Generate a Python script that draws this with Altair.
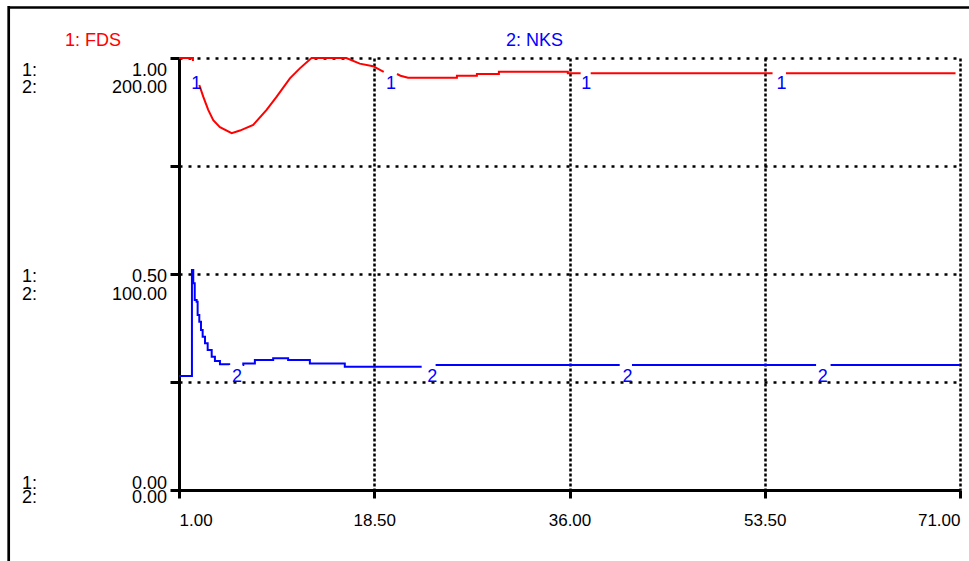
import altair as alt
import pandas as pd

# ---------------- data ----------------
x_ticks = [1.0, 18.5, 36.0, 53.5, 71.0]
fds_ticks = [0.0, 0.25, 0.5, 0.75, 1.0]
scale_fds = [1.00, 0.50, 0.00]
scale_nks = [200.00, 100.00, 0.00]
series_names = ["1: FDS", "2: NKS"]

fds_time = [1.0, 2.25, 2.25,
            2.82, 3.18, 3.62, 4.07, 4.67, 5.72, 6.46, 7.65, 8.85, 9.74, 10.94, 11.83, 12.88, 16.0, 17.2, 18.39, 19.35,
            20.54, 20.85, 21.53, 25.91, 25.91, 27.70, 27.70, 29.67, 29.67, 35.85, 35.85, 37.0,
            37.9, 54.2,
            55.4, 70.6]
fds_value = [1.0, 1.0, 0.993,
             0.9375, 0.910, 0.880, 0.856, 0.840, 0.826, 0.832, 0.845, 0.880, 0.910, 0.953, 0.976, 1.0, 1.0, 0.987, 0.981, 0.968,
             0.963, 0.959, 0.9544, 0.9544, 0.959, 0.959, 0.963, 0.963, 0.9683, 0.9683, 0.9645, 0.9645,
             0.9645, 0.9645,
             0.9645, 0.9645]
fds_part = [1] * 3 + [2] * 17 + [3] * 12 + [4] * 2 + [5] * 2

nks_time = [1.0, 2.16, 2.28, 2.41, 2.58, 2.67, 2.82, 2.97, 3.12, 3.33, 3.57, 3.93, 4.22, 4.67, 5.5,
            6.7, 6.76, 7.8, 9.44, 10.78, 12.73, 15.86, 22.75,
            24.0, 40.5,
            41.6, 58.1,
            59.4, 71.0]
nks_value = [52.8, 101.9, 95.7, 88.0, 87.2, 81.0, 77.9, 74.1, 71.0, 67.9, 64.8, 61.7, 59.7, 58.2, 57.9,
             57.9, 58.6, 60.2, 61.0, 60.2, 58.6, 57.1, 57.1,
             57.9, 57.9,
             57.9, 57.9,
             57.9, 57.9]
nks_part = [1] * 15 + [2] * 8 + [3] * 2 + [4] * 2 + [5] * 2

marker1_time = [2.55, 20.0, 37.5, 55.0]
marker1_value = [0.94, 0.94, 0.94, 0.94]
marker2_time = [6.2, 23.7, 41.2, 58.7]
marker2_value = [52.5, 52.5, 52.5, 52.5]

# ---------------- layout / style ----------------
W, H = 781, 432
LEFT, TOP = 179, 58
FONT = "Liberation Sans"
FS = 18
RED = "#ff0000"
BLUE = "#0000ff"
row_dy1 = [13, 2.5, -6.5]
row_dy2 = [29.5, 20.5, 8]

fds_df = pd.DataFrame({"t": fds_time, "v": fds_value, "part": fds_part})
nks_df = pd.DataFrame({"t": nks_time, "v": nks_value, "part": nks_part})
m1_df = pd.DataFrame({"t": marker1_time, "v": marker1_value})
m2_df = pd.DataFrame({"t": marker2_time, "v": marker2_value})

xs = alt.Scale(domain=[1, 71], nice=False, zero=False)
ys_fds = alt.Scale(domain=[0, 1], nice=False, zero=False)
ys_nks = alt.Scale(domain=[0, 200], nice=False, zero=False)


def x_axis():
    return alt.Axis(values=x_ticks, format=".2f", title=None, grid=True,
                    gridDash=[3, 2], gridWidth=2.5, gridColor="black", gridOpacity=1,
                    domainColor="black", domainWidth=3, tickColor="black", tickWidth=3,
                    tickSize=8, labelFont=FONT, labelFontSize=17, labelColor="black",
                    labelFlush=True, labelPadding=14)


def x_enc():
    return alt.X("t:Q", scale=xs, axis=x_axis())


y_axis = alt.Axis(values=fds_ticks, labels=False, title=None, grid=True,
                  gridDash=[3, 6], gridWidth=2.5, gridColor="black", gridOpacity=1,
                  domainColor="black", domainWidth=3, tickColor="black", tickWidth=3,
                  tickSize=9)

fds_line = alt.Chart(fds_df).mark_line(color=RED, strokeWidth=2, clip=False).encode(
    x=x_enc(),
    y=alt.Y("v:Q", scale=ys_fds, axis=y_axis),
    detail="part:N",
)

nks_line = alt.Chart(nks_df).mark_line(color=BLUE, strokeWidth=2, interpolate="step-after").encode(
    x=x_enc(),
    y=alt.Y("v:Q", scale=ys_nks, axis=None),
    detail="part:N",
)

m1 = alt.Chart(m1_df).mark_text(text="1", color=BLUE, font=FONT, fontSize=FS,
                                align="center", baseline="middle").encode(
    x=x_enc(),
    y=alt.Y("v:Q", scale=ys_fds, axis=None),
)
m2 = alt.Chart(m2_df).mark_text(text="2", color=BLUE, font=FONT, fontSize=FS,
                                align="center", baseline="middle").encode(
    x=x_enc(),
    y=alt.Y("v:Q", scale=ys_nks, axis=None),
)

label_layers = []
for i, (a, b) in enumerate(zip(scale_fds, scale_nks)):
    for pre_txt, val_txt, dy in (("1:", f"{a:.2f}", row_dy1[i]), ("2:", f"{b:.2f}", row_dy2[i])):
        d = pd.DataFrame({"v": [a], "pre": [pre_txt], "txt": [val_txt]})
        label_layers.append(
            alt.Chart(d).mark_text(color="black", font=FONT, fontSize=FS, align="left",
                                   baseline="middle", dy=dy).encode(
                x=alt.value(22 - LEFT),
                y=alt.Y("v:Q", scale=ys_fds, axis=None),
                text="pre:N",
            )
        )
        label_layers.append(
            alt.Chart(d).mark_text(color="black", font=FONT, fontSize=FS, align="right",
                                   baseline="middle", dy=dy).encode(
                x=alt.value(167 - LEFT),
                y=alt.Y("v:Q", scale=ys_fds, axis=None),
                text="txt:N",
            )
        )

title_layers = []
for name, col, px in zip(series_names, [RED, BLUE], [65, 506]):
    title_layers.append(
        alt.Chart(pd.DataFrame({"name": [name]})).mark_text(
            font=FONT, fontSize=FS, align="left", baseline="alphabetic", color=col).encode(
            x=alt.value(px - LEFT),
            y=alt.value(46 - TOP),
            text="name:N",
        )
    )

frame_top = alt.Chart(pd.DataFrame({"a": [0]})).mark_rule(color="black", strokeWidth=2.7).encode(
    x=alt.value(9 - LEFT), x2=alt.value(969 - LEFT), y=alt.value(7.5 - TOP))
frame_left = alt.Chart(pd.DataFrame({"a": [0]})).mark_rule(color="black", strokeWidth=2.7).encode(
    x=alt.value(8.7 - LEFT), y=alt.value(6 - TOP), y2=alt.value(561 - TOP))

chart = alt.layer(
    fds_line, nks_line, m1, m2, *label_layers, *title_layers, frame_top, frame_left
).resolve_scale(y="independent", x="shared").resolve_axis(x="shared").properties(
    width=W, height=H,
    autosize=alt.AutoSizeParams(type="none"),
    padding={"left": LEFT, "top": TOP, "right": 969 - LEFT - W, "bottom": 561 - TOP - H},
    background="white",
).configure_view(stroke=None)

chart.save("out.html", embed_options={"renderer": "svg", "actions": False})
